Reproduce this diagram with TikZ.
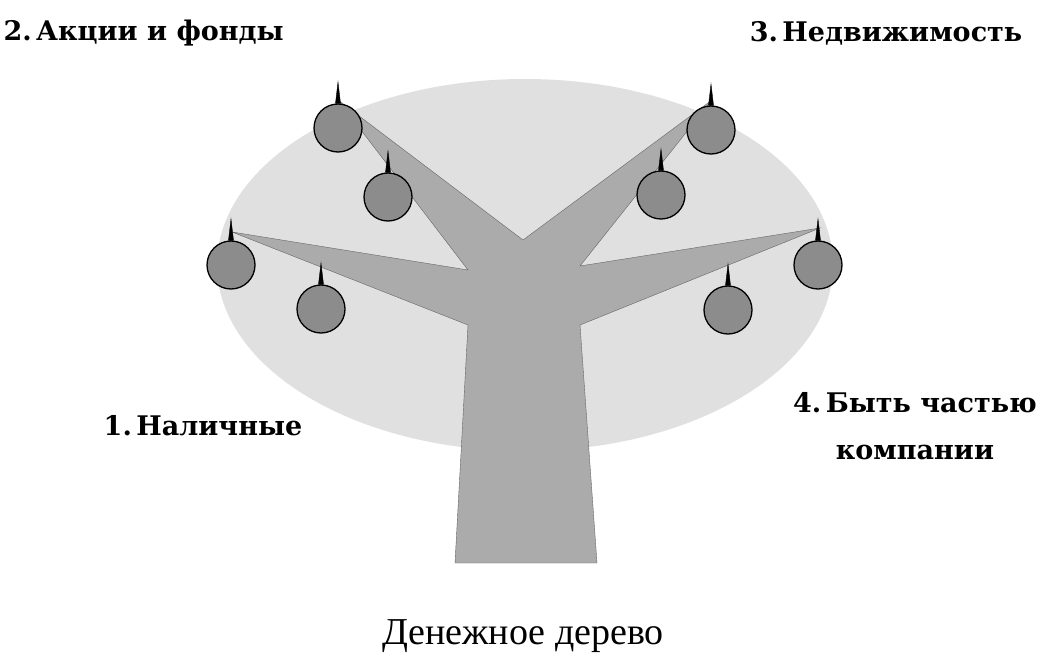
\documentclass[tikz,border=0pt]{standalone}
\usepackage{fontspec}
\setmainfont{Liberation Serif}
\newfontfamily\labelfont{DejaVu Serif}
\usetikzlibrary{positioning}

\tikzset{
  fruit/.style={circle, draw=black, line width=1.3pt, fill=black!45, minimum size=48pt, inner sep=0pt},
  stem/.style={fill=black, draw=black, line width=0.4pt},
  kind/.style={font=\labelfont\bfseries\fontsize{27}{47}\selectfont, align=center},
}

\begin{document}
\begin{tikzpicture}[x=1pt, y=-1pt]
  \useasboundingbox (0,0) rectangle (1046,661);
  % crown
  \fill[black!12] (525,265) ellipse [x radius=308, y radius=186];
  % trunk and branches
  \filldraw[fill=black!33, draw=black!60, line width=0.4pt]
    (455,563) -- (468,325) -- (232,232) -- (468,270) -- (338,100) -- (523,240)
    -- (712,100) -- (580,266) -- (820,228) -- (580,325) -- (597,563) -- cycle;
  % fruits
  \foreach \name/\x/\y in {a/338/128, b/388/197, c/231/265, d/321/309,
                           e/711/130, f/661/195, g/818/265, h/728/310} {
    \node[fruit] (\name) at (\x,\y) {};
    \coordinate (\name-tip) at (\x,\y-46);
    \fill[stem] ([xshift=-2.5pt]\name.north) -- (\name-tip) -- ([xshift=2.5pt]\name.north) -- cycle;
  }
  % labels
  \node[kind, anchor=west] (stocks) at (0,33) {2.\,Акции и фонды};
  \node[kind] (estate) at (886,33) {3.\,Недвижимость};
  \node[kind] (cash) at (203,426) {1.\,Наличные};
  \node[kind] (share) at (915,426) {4.\,Быть частью\\компании};
  \node[font=\fontsize{38}{44}\selectfont] (title) at (523,636) {Денежное дерево};
\end{tikzpicture}
\end{document}
